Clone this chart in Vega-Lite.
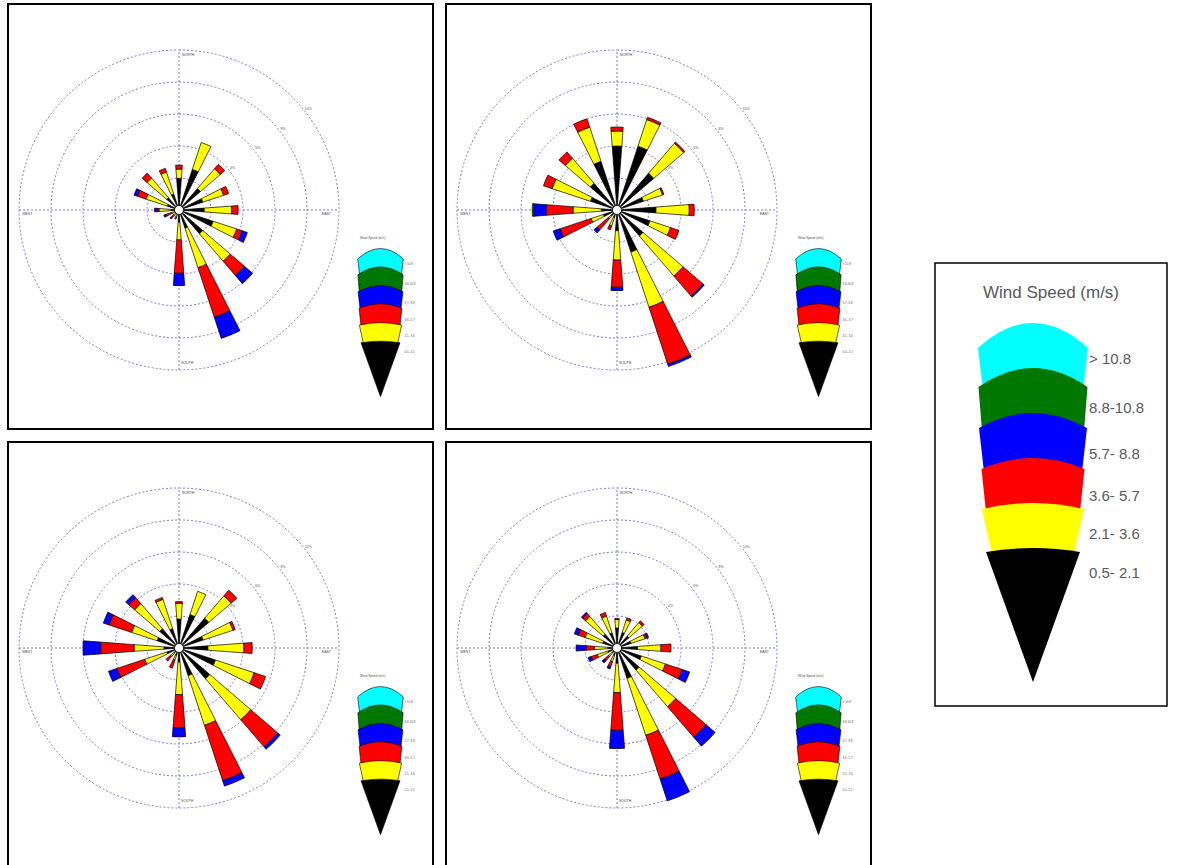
{
  "$schema": "https://vega.github.io/schema/vega-lite/v6.json",
  "padding": {"left": 7, "top": 3, "right": 0, "bottom": 0},
  "background": "white",
  "config": {
    "font": "Liberation Sans",
    "view": {"stroke": "black", "strokeWidth": 2},
    "legend": {"strokeWidth": 1.5}
  },
  "datasets": {
    "p1": [
      {"dir":0,"speed":"0.5- 2.1","pct":1.98},{"dir":0,"speed":"2.1- 3.6","pct":0.58},{"dir":0,"speed":"3.6- 5.7","pct":0.25},
      {"dir":22.5,"speed":"0.5- 2.1","pct":2.67},{"dir":22.5,"speed":"2.1- 3.6","pct":1.77},
      {"dir":45,"speed":"0.5- 2.1","pct":1.77},{"dir":45,"speed":"2.1- 3.6","pct":1.63},{"dir":45,"speed":"3.6- 5.7","pct":0.37},
      {"dir":67.5,"speed":"0.5- 2.1","pct":1.57},{"dir":67.5,"speed":"2.1- 3.6","pct":1.37},{"dir":67.5,"speed":"3.6- 5.7","pct":0.33},
      {"dir":90,"speed":"0.5- 2.1","pct":1.58},{"dir":90,"speed":"2.1- 3.6","pct":1.72},{"dir":90,"speed":"3.6- 5.7","pct":0.4},
      {"dir":112.5,"speed":"0.5- 2.1","pct":2.25},{"dir":112.5,"speed":"2.1- 3.6","pct":1.55},{"dir":112.5,"speed":"3.6- 5.7","pct":0.36},{"dir":112.5,"speed":"5.7- 8.8","pct":0.34},
      {"dir":135,"speed":"0.5- 2.1","pct":1.96},{"dir":135,"speed":"2.1- 3.6","pct":2.27},{"dir":135,"speed":"3.6- 5.7","pct":1.17},{"dir":135,"speed":"5.7- 8.8","pct":0.67},
      {"dir":157.5,"speed":"0.5- 2.1","pct":1.2},{"dir":157.5,"speed":"2.1- 3.6","pct":2.6},{"dir":157.5,"speed":"3.6- 5.7","pct":3.26},{"dir":157.5,"speed":"5.7- 8.8","pct":1.39},
      {"dir":180,"speed":"0.5- 2.1","pct":0.77},{"dir":180,"speed":"2.1- 3.6","pct":1.1},{"dir":180,"speed":"3.6- 5.7","pct":2.09},{"dir":180,"speed":"5.7- 8.8","pct":0.77},
      {"dir":202.5,"speed":"0.5- 2.1","pct":0.3},{"dir":202.5,"speed":"2.1- 3.6","pct":0.15},{"dir":202.5,"speed":"3.6- 5.7","pct":0.15},
      {"dir":225,"speed":"0.5- 2.1","pct":0.3},{"dir":225,"speed":"2.1- 3.6","pct":0.15},{"dir":225,"speed":"3.6- 5.7","pct":0.25},{"dir":225,"speed":"5.7- 8.8","pct":0.05},
      {"dir":247.5,"speed":"0.5- 2.1","pct":0.3},{"dir":247.5,"speed":"2.1- 3.6","pct":0.2},{"dir":247.5,"speed":"3.6- 5.7","pct":0.35},{"dir":247.5,"speed":"5.7- 8.8","pct":0.15},
      {"dir":270,"speed":"0.5- 2.1","pct":0.5},{"dir":270,"speed":"2.1- 3.6","pct":0.75},{"dir":270,"speed":"3.6- 5.7","pct":0.12},{"dir":270,"speed":"5.7- 8.8","pct":0.17},
      {"dir":292.5,"speed":"0.5- 2.1","pct":0.77},{"dir":292.5,"speed":"2.1- 3.6","pct":1.4},{"dir":292.5,"speed":"3.6- 5.7","pct":0.56},{"dir":292.5,"speed":"5.7- 8.8","pct":0.23},
      {"dir":315,"speed":"0.5- 2.1","pct":1.02},{"dir":315,"speed":"2.1- 3.6","pct":1.62},{"dir":315,"speed":"3.6- 5.7","pct":0.4},
      {"dir":337.5,"speed":"0.5- 2.1","pct":1.06},{"dir":337.5,"speed":"2.1- 3.6","pct":1.44},{"dir":337.5,"speed":"3.6- 5.7","pct":0.24}
    ],
    "p2": [
      {"dir":0,"speed":"0.5- 2.1","pct":4.0},{"dir":0,"speed":"2.1- 3.6","pct":0.94},{"dir":0,"speed":"3.6- 5.7","pct":0.25},
      {"dir":22.5,"speed":"0.5- 2.1","pct":4.2},{"dir":22.5,"speed":"2.1- 3.6","pct":1.75},{"dir":22.5,"speed":"3.6- 5.7","pct":0.15},
      {"dir":45,"speed":"0.5- 2.1","pct":3.03},{"dir":45,"speed":"2.1- 3.6","pct":2.47},{"dir":45,"speed":"3.6- 5.7","pct":0.1},
      {"dir":67.5,"speed":"0.5- 2.1","pct":1.74},{"dir":67.5,"speed":"2.1- 3.6","pct":1.26},{"dir":67.5,"speed":"3.6- 5.7","pct":0.09},
      {"dir":90,"speed":"0.5- 2.1","pct":2.44},{"dir":90,"speed":"2.1- 3.6","pct":2.08},{"dir":90,"speed":"3.6- 5.7","pct":0.31},
      {"dir":112.5,"speed":"0.5- 2.1","pct":2.17},{"dir":112.5,"speed":"2.1- 3.6","pct":1.35},{"dir":112.5,"speed":"3.6- 5.7","pct":0.56},
      {"dir":135,"speed":"0.5- 2.1","pct":2.15},{"dir":135,"speed":"2.1- 3.6","pct":3.3},{"dir":135,"speed":"3.6- 5.7","pct":1.65},{"dir":135,"speed":"5.7- 8.8","pct":0.1},
      {"dir":157.5,"speed":"0.5- 2.1","pct":2.77},{"dir":157.5,"speed":"2.1- 3.6","pct":3.63},{"dir":157.5,"speed":"3.6- 5.7","pct":3.75},{"dir":157.5,"speed":"5.7- 8.8","pct":0.15},
      {"dir":180,"speed":"0.5- 2.1","pct":1.29},{"dir":180,"speed":"2.1- 3.6","pct":1.84},{"dir":180,"speed":"3.6- 5.7","pct":1.7},{"dir":180,"speed":"5.7- 8.8","pct":0.21},
      {"dir":202.5,"speed":"0.5- 2.1","pct":0.5},{"dir":202.5,"speed":"2.1- 3.6","pct":0.55},{"dir":202.5,"speed":"3.6- 5.7","pct":0.25},
      {"dir":225,"speed":"0.5- 2.1","pct":0.5},{"dir":225,"speed":"2.1- 3.6","pct":0.2},{"dir":225,"speed":"3.6- 5.7","pct":0.95},{"dir":225,"speed":"5.7- 8.8","pct":0.25},
      {"dir":247.5,"speed":"0.5- 2.1","pct":0.9},{"dir":247.5,"speed":"2.1- 3.6","pct":0.8},{"dir":247.5,"speed":"3.6- 5.7","pct":2.05},{"dir":247.5,"speed":"5.7- 8.8","pct":0.45},
      {"dir":270,"speed":"0.5- 2.1","pct":0.98},{"dir":270,"speed":"2.1- 3.6","pct":1.77},{"dir":270,"speed":"3.6- 5.7","pct":1.67},{"dir":270,"speed":"5.7- 8.8","pct":0.78},{"dir":270,"speed":"8.8-10.8","pct":0.1},
      {"dir":292.5,"speed":"0.5- 2.1","pct":1.75},{"dir":292.5,"speed":"2.1- 3.6","pct":2.52},{"dir":292.5,"speed":"3.6- 5.7","pct":0.57},
      {"dir":315,"speed":"0.5- 2.1","pct":2.2},{"dir":315,"speed":"2.1- 3.6","pct":2.07},{"dir":315,"speed":"3.6- 5.7","pct":0.52},
      {"dir":337.5,"speed":"0.5- 2.1","pct":3.2},{"dir":337.5,"speed":"2.1- 3.6","pct":2.25},{"dir":337.5,"speed":"3.6- 5.7","pct":0.55}
    ],
    "p3": [
      {"dir":0,"speed":"0.5- 2.1","pct":1.81},{"dir":0,"speed":"2.1- 3.6","pct":0.99},{"dir":0,"speed":"3.6- 5.7","pct":0.1},
      {"dir":22.5,"speed":"0.5- 2.1","pct":2.2},{"dir":22.5,"speed":"2.1- 3.6","pct":1.53},
      {"dir":45,"speed":"0.5- 2.1","pct":2.46},{"dir":45,"speed":"2.1- 3.6","pct":1.84},{"dir":45,"speed":"3.6- 5.7","pct":0.47},
      {"dir":67.5,"speed":"0.5- 2.1","pct":1.59},{"dir":67.5,"speed":"2.1- 3.6","pct":1.96},{"dir":67.5,"speed":"3.6- 5.7","pct":0.15},
      {"dir":90,"speed":"0.5- 2.1","pct":1.81},{"dir":90,"speed":"2.1- 3.6","pct":2.25},{"dir":90,"speed":"3.6- 5.7","pct":0.52},
      {"dir":112.5,"speed":"0.5- 2.1","pct":2.4},{"dir":112.5,"speed":"2.1- 3.6","pct":2.55},{"dir":112.5,"speed":"3.6- 5.7","pct":0.75},
      {"dir":135,"speed":"0.5- 2.1","pct":2.54},{"dir":135,"speed":"2.1- 3.6","pct":3.38},{"dir":135,"speed":"3.6- 5.7","pct":2.23},{"dir":135,"speed":"5.7- 8.8","pct":0.2},
      {"dir":157.5,"speed":"0.5- 2.1","pct":1.82},{"dir":157.5,"speed":"2.1- 3.6","pct":3.27},{"dir":157.5,"speed":"3.6- 5.7","pct":3.64},{"dir":157.5,"speed":"5.7- 8.8","pct":0.36},
      {"dir":180,"speed":"0.5- 2.1","pct":0.88},{"dir":180,"speed":"2.1- 3.6","pct":2.04},{"dir":180,"speed":"3.6- 5.7","pct":2.08},{"dir":180,"speed":"5.7- 8.8","pct":0.56},
      {"dir":202.5,"speed":"0.5- 2.1","pct":0.5},{"dir":202.5,"speed":"2.1- 3.6","pct":0.3},{"dir":202.5,"speed":"3.6- 5.7","pct":0.53},
      {"dir":225,"speed":"0.5- 2.1","pct":0.4},{"dir":225,"speed":"2.1- 3.6","pct":0.3},{"dir":225,"speed":"3.6- 5.7","pct":0.38},
      {"dir":247.5,"speed":"0.5- 2.1","pct":0.8},{"dir":247.5,"speed":"2.1- 3.6","pct":1.46},{"dir":247.5,"speed":"3.6- 5.7","pct":1.82},{"dir":247.5,"speed":"5.7- 8.8","pct":0.56},
      {"dir":270,"speed":"0.5- 2.1","pct":0.94},{"dir":270,"speed":"2.1- 3.6","pct":1.87},{"dir":270,"speed":"3.6- 5.7","pct":2.09},{"dir":270,"speed":"5.7- 8.8","pct":1.1},
      {"dir":292.5,"speed":"0.5- 2.1","pct":1.44},{"dir":292.5,"speed":"2.1- 3.6","pct":1.68},{"dir":292.5,"speed":"3.6- 5.7","pct":1.48},{"dir":292.5,"speed":"5.7- 8.8","pct":0.38},
      {"dir":315,"speed":"0.5- 2.1","pct":1.59},{"dir":315,"speed":"2.1- 3.6","pct":2.07},{"dir":315,"speed":"3.6- 5.7","pct":0.49},{"dir":315,"speed":"5.7- 8.8","pct":0.25},
      {"dir":337.5,"speed":"0.5- 2.1","pct":1.27},{"dir":337.5,"speed":"2.1- 3.6","pct":1.93},{"dir":337.5,"speed":"3.6- 5.7","pct":0.13}
    ],
    "p4": [
      {"dir":0,"speed":"0.5- 2.1","pct":1.25},{"dir":0,"speed":"2.1- 3.6","pct":0.53},{"dir":0,"speed":"3.6- 5.7","pct":0.07},
      {"dir":22.5,"speed":"0.5- 2.1","pct":1.02},{"dir":22.5,"speed":"2.1- 3.6","pct":0.83},{"dir":22.5,"speed":"3.6- 5.7","pct":0.13},
      {"dir":45,"speed":"0.5- 2.1","pct":0.98},{"dir":45,"speed":"2.1- 3.6","pct":1.12},{"dir":45,"speed":"3.6- 5.7","pct":0.14},
      {"dir":67.5,"speed":"0.5- 2.1","pct":0.92},{"dir":67.5,"speed":"2.1- 3.6","pct":0.93},{"dir":67.5,"speed":"3.6- 5.7","pct":0.13},{"dir":67.5,"speed":"5.7- 8.8","pct":0.1},
      {"dir":90,"speed":"0.5- 2.1","pct":1.29},{"dir":90,"speed":"2.1- 3.6","pct":1.46},{"dir":90,"speed":"3.6- 5.7","pct":0.63},
      {"dir":112.5,"speed":"0.5- 2.1","pct":1.6},{"dir":112.5,"speed":"2.1- 3.6","pct":1.59},{"dir":112.5,"speed":"3.6- 5.7","pct":1.11},{"dir":112.5,"speed":"5.7- 8.8","pct":0.48},
      {"dir":135,"speed":"0.5- 2.1","pct":1.83},{"dir":135,"speed":"2.1- 3.6","pct":3.02},{"dir":135,"speed":"3.6- 5.7","pct":2.5},{"dir":135,"speed":"5.7- 8.8","pct":0.74},
      {"dir":157.5,"speed":"0.5- 2.1","pct":2.0},{"dir":157.5,"speed":"2.1- 3.6","pct":3.75},{"dir":157.5,"speed":"3.6- 5.7","pct":2.88},{"dir":157.5,"speed":"5.7- 8.8","pct":1.43},
      {"dir":180,"speed":"0.5- 2.1","pct":0.96},{"dir":180,"speed":"2.1- 3.6","pct":1.83},{"dir":180,"speed":"3.6- 5.7","pct":2.36},{"dir":180,"speed":"5.7- 8.8","pct":1.14},
      {"dir":202.5,"speed":"0.5- 2.1","pct":0.5},{"dir":202.5,"speed":"2.1- 3.6","pct":0.4},{"dir":202.5,"speed":"3.6- 5.7","pct":0.35},{"dir":202.5,"speed":"5.7- 8.8","pct":0.13},
      {"dir":225,"speed":"0.5- 2.1","pct":0.4},{"dir":225,"speed":"2.1- 3.6","pct":0.3},{"dir":225,"speed":"3.6- 5.7","pct":0.35},{"dir":225,"speed":"5.7- 8.8","pct":0.19},
      {"dir":247.5,"speed":"0.5- 2.1","pct":0.6},{"dir":247.5,"speed":"2.1- 3.6","pct":0.7},{"dir":247.5,"speed":"3.6- 5.7","pct":0.4},{"dir":247.5,"speed":"5.7- 8.8","pct":0.2},
      {"dir":270,"speed":"0.5- 2.1","pct":0.58},{"dir":270,"speed":"2.1- 3.6","pct":0.84},{"dir":270,"speed":"3.6- 5.7","pct":0.52},{"dir":270,"speed":"5.7- 8.8","pct":0.62},
      {"dir":292.5,"speed":"0.5- 2.1","pct":0.94},{"dir":292.5,"speed":"2.1- 3.6","pct":1.16},{"dir":292.5,"speed":"3.6- 5.7","pct":0.45},{"dir":292.5,"speed":"5.7- 8.8","pct":0.26},
      {"dir":315,"speed":"0.5- 2.1","pct":1.14},{"dir":315,"speed":"2.1- 3.6","pct":1.46},{"dir":315,"speed":"3.6- 5.7","pct":0.25},{"dir":315,"speed":"5.7- 8.8","pct":0.09},
      {"dir":337.5,"speed":"0.5- 2.1","pct":0.99},{"dir":337.5,"speed":"2.1- 3.6","pct":1.11},{"dir":337.5,"speed":"3.6- 5.7","pct":0.24}
    ],
    "rings": [{"ring":2},{"ring":4},{"ring":6},{"ring":8},{"ring":10}],
    "ringLabels": [{"ring":4,"lab":"4%"},{"ring":6,"lab":"6%"},{"ring":8,"lab":"8%"},{"ring":10,"lab":"10%"}],
    "one": [{}]
  },
  "columns": 3,
  "spacing": 13,
  "bounds": "flush",
  "resolve": {
    "scale": {"fill": "independent", "shape": "independent"},
    "legend": {"fill": "independent", "shape": "independent"}
  },
  "concat": [
    {
      "width": 425, "height": 425,
      "data": {"name": "p1"},
      "encoding": {
        "x": {"datum": 0, "type": "quantitative", "scale": {"domain": [-10.6875, 15.875], "nice": false, "zero": false}, "axis": null},
        "y": {"datum": 0, "type": "quantitative", "scale": {"domain": [-13.6875, 12.875], "nice": false, "zero": false}, "axis": null}
      },
      "layer": [
        {"data": {"name": "rings"}, "mark": {"type": "arc", "filled": false, "fill": null, "stroke": "#7a7ad8", "strokeWidth": 1, "strokeDash": [2, 2]},
         "encoding": {"theta": {"datum": 0, "type": "quantitative", "scale": {"domain": [0, 360], "range": [0, 6.283185307179586]}}, "theta2": {"datum": 360},
                      "radius": {"field": "ring", "type": "quantitative", "stack": null, "scale": {"type": "linear", "domain": [0, 10], "range": [0, 160], "zero": true, "nice": false}}}},
        {"data": {"name": "one"}, "mark": {"type": "rule", "stroke": "#7a7ad8", "strokeWidth": 1, "strokeDash": [2, 2]},
         "encoding": {"y": {"datum": -10, "type": "quantitative", "scale": {"domain": [-13.6875, 12.875], "nice": false, "zero": false}, "axis": null}, "y2": {"datum": 10}}},
        {"data": {"name": "one"}, "mark": {"type": "rule", "stroke": "#7a7ad8", "strokeWidth": 1, "strokeDash": [2, 2]},
         "encoding": {"x": {"datum": -10, "type": "quantitative", "scale": {"domain": [-10.6875, 15.875], "nice": false, "zero": false}, "axis": null}, "x2": {"datum": 10}}},
        {"data": {"name": "ringLabels"}, "mark": {"type": "text", "fontSize": 3.5, "fill": "#555555", "radiusOffset": 4},
         "encoding": {"theta": {"datum": 52, "type": "quantitative", "scale": {"domain": [0, 360], "range": [0, 6.283185307179586]}},
                      "radius": {"field": "ring", "type": "quantitative", "stack": null, "scale": {"type": "linear", "domain": [0, 10], "range": [0, 160], "zero": true, "nice": false}},
                      "text": {"field": "lab"}}},
        {"data": {"name": "one"}, "mark": {"type": "text", "text": "NORTH", "align": "left", "baseline": "middle", "dx": 3, "fontSize": 3.5, "fill": "#444444"},
         "encoding": {"y": {"datum": 9.69, "type": "quantitative", "scale": {"domain": [-13.6875, 12.875], "nice": false, "zero": false}, "axis": null}}},
        {"data": {"name": "one"}, "mark": {"type": "text", "text": "SOUTH", "align": "left", "baseline": "middle", "dx": 2, "fontSize": 3.5, "fill": "#444444"},
         "encoding": {"y": {"datum": -9.56, "type": "quantitative", "scale": {"domain": [-13.6875, 12.875], "nice": false, "zero": false}, "axis": null}}},
        {"data": {"name": "one"}, "mark": {"type": "text", "text": "WEST", "align": "left", "baseline": "middle", "fontSize": 3.5, "fill": "#444444"},
         "encoding": {"x": {"datum": -9.8, "type": "quantitative", "scale": {"domain": [-10.6875, 15.875], "nice": false, "zero": false}, "axis": null},
                      "y": {"datum": -0.25, "type": "quantitative", "scale": {"domain": [-13.6875, 12.875], "nice": false, "zero": false}, "axis": null}}},
        {"data": {"name": "one"}, "mark": {"type": "text", "text": "EAST", "align": "right", "baseline": "middle", "fontSize": 3.5, "fill": "#444444"},
         "encoding": {"x": {"datum": 9.5, "type": "quantitative", "scale": {"domain": [-10.6875, 15.875], "nice": false, "zero": false}, "axis": null},
                      "y": {"datum": -0.25, "type": "quantitative", "scale": {"domain": [-13.6875, 12.875], "nice": false, "zero": false}, "axis": null}}},
        {"transform": [
           {"stack": "pct", "groupby": ["dir"], "sort": [{"field": "speed", "order": "ascending"}], "as": ["r0", "r1"]},
           {"calculate": "datum.dir - 4.3", "as": "a0"},
           {"calculate": "datum.dir + 4.3", "as": "a1"}],
         "mark": {"type": "arc", "stroke": "black", "strokeWidth": 0.7},
         "encoding": {
           "theta": {"field": "a0", "type": "quantitative", "stack": null, "scale": {"domain": [0, 360], "range": [0, 6.283185307179586]}},
           "theta2": {"field": "a1"},
           "radius": {"field": "r1", "type": "quantitative", "stack": null, "scale": {"type": "linear", "domain": [0, 10], "range": [0, 160], "zero": true, "nice": false}},
           "radius2": {"field": "r0"},
           "fill": {"field": "speed", "type": "nominal",
                    "scale": {"domain": ["> 10.8", "8.8-10.8", "5.7- 8.8", "3.6- 5.7", "2.1- 3.6", "0.5- 2.1"], "range": ["#00ffff", "#007800", "#0000ff", "#ff0000", "#ffff00", "#000000"]},
                    "legend": {"title": "Wind Speed (m/s)", "orient": "none", "legendX": 352, "legendY": 232.2, "padding": 0, "symbolSize": 0.6889, "symbolStrokeColor": "black", "symbolStrokeWidth": 0.6, "symbolOffset": 19, "rowPadding": -27, "labelOffset": 22.5, "labelFontSize": 3, "labelColor": "#555555", "labelFont": "Liberation Sans", "titleFontSize": 3.2, "titleFont": "Liberation Sans", "titleColor": "#555555", "titleFontWeight": "normal", "titlePadding": 22.6, "titleAnchor": "start", "direction": "vertical"}}}},
        {"data": {"name": "one"}, "mark": {"type": "arc", "fill": "white", "stroke": "black", "strokeWidth": 0.8},
         "encoding": {"theta": {"datum": 0, "type": "quantitative", "scale": {"domain": [0, 360], "range": [0, 6.283185307179586]}}, "theta2": {"datum": 360},
                      "radius": {"datum": 0.28, "type": "quantitative", "stack": null, "scale": {"type": "linear", "domain": [0, 10], "range": [0, 160], "zero": true, "nice": false}}}},
        {"transform": [{"filter": "false"}],
         "mark": {"type": "point", "filled": true, "opacity": 1, "stroke": "black", "strokeWidth": 0.6},
         "encoding": {
           "fill": {"field": "speed", "type": "nominal",
                    "scale": {"domain": ["> 10.8", "8.8-10.8", "5.7- 8.8", "3.6- 5.7", "2.1- 3.6", "0.5- 2.1"], "range": ["#00ffff", "#007800", "#0000ff", "#ff0000", "#ffff00", "#000000"]},
                    "legend": {"title": "Wind Speed (m/s)", "orient": "none", "legendX": 352, "legendY": 232.2, "padding": 0, "symbolSize": 0.6889, "symbolStrokeColor": "black", "symbolStrokeWidth": 0.6, "symbolOffset": 19, "rowPadding": -27, "labelOffset": 22.5, "labelFontSize": 3, "labelColor": "#555555", "labelFont": "Liberation Sans", "titleFontSize": 3.2, "titleFont": "Liberation Sans", "titleColor": "#555555", "titleFontWeight": "normal", "titlePadding": 22.6, "titleAnchor": "start", "direction": "vertical"}},
           "shape": {"field": "speed", "type": "nominal",
                    "scale": {"domain": ["> 10.8", "8.8-10.8", "5.7- 8.8", "3.6- 5.7", "2.1- 3.6", "0.5- 2.1"],
                              "range": ["M0,-70M0,35.7M-55,-11Q0,-61 55,-11L50,31L-50,31Z", "M0,-70M0,33.3M-54.5,-21Q0,-59 54.5,-21L51,23L-51,23Z", "M0,-70M0,28.4M-54,-26Q0,-56 54,-26L49,18L-49,18Z", "M0,-70M0,26M-51.5,-27Q0,-49 51.5,-27L47,16L-47,16Z", "M0,-70M0,26M-51,-25Q0,-37 51,-25L41,20L-41,20Z", "M0,-70M-47,-21Q0,-29 47,-21L0,109Z"]},
                    "legend": {"title": "Wind Speed (m/s)", "orient": "none", "legendX": 352, "legendY": 232.2, "padding": 0, "symbolSize": 0.6889, "symbolStrokeColor": "black", "symbolStrokeWidth": 0.6, "symbolOffset": 19, "rowPadding": -27, "labelOffset": 22.5, "labelFontSize": 3, "labelColor": "#555555", "labelFont": "Liberation Sans", "titleFontSize": 3.2, "titleFont": "Liberation Sans", "titleColor": "#555555", "titleFontWeight": "normal", "titlePadding": 22.6, "titleAnchor": "start", "direction": "vertical"}}}}
      ]
    },
    {
      "width": 425, "height": 425,
      "data": {"name": "p2"},
      "encoding": {
        "x": {"datum": 0, "type": "quantitative", "scale": {"domain": [-10.6875, 15.875], "nice": false, "zero": false}, "axis": null},
        "y": {"datum": 0, "type": "quantitative", "scale": {"domain": [-13.6875, 12.875], "nice": false, "zero": false}, "axis": null}
      },
      "layer": [
        {"data": {"name": "rings"}, "mark": {"type": "arc", "filled": false, "fill": null, "stroke": "#7a7ad8", "strokeWidth": 1, "strokeDash": [2, 2]},
         "encoding": {"theta": {"datum": 0, "type": "quantitative", "scale": {"domain": [0, 360], "range": [0, 6.283185307179586]}}, "theta2": {"datum": 360},
                      "radius": {"field": "ring", "type": "quantitative", "stack": null, "scale": {"type": "linear", "domain": [0, 10], "range": [0, 160], "zero": true, "nice": false}}}},
        {"data": {"name": "one"}, "mark": {"type": "rule", "stroke": "#7a7ad8", "strokeWidth": 1, "strokeDash": [2, 2]},
         "encoding": {"y": {"datum": -10, "type": "quantitative", "scale": {"domain": [-13.6875, 12.875], "nice": false, "zero": false}, "axis": null}, "y2": {"datum": 10}}},
        {"data": {"name": "one"}, "mark": {"type": "rule", "stroke": "#7a7ad8", "strokeWidth": 1, "strokeDash": [2, 2]},
         "encoding": {"x": {"datum": -10, "type": "quantitative", "scale": {"domain": [-10.6875, 15.875], "nice": false, "zero": false}, "axis": null}, "x2": {"datum": 10}}},
        {"data": {"name": "ringLabels"}, "mark": {"type": "text", "fontSize": 3.5, "fill": "#555555", "radiusOffset": 4},
         "encoding": {"theta": {"datum": 52, "type": "quantitative", "scale": {"domain": [0, 360], "range": [0, 6.283185307179586]}},
                      "radius": {"field": "ring", "type": "quantitative", "stack": null, "scale": {"type": "linear", "domain": [0, 10], "range": [0, 160], "zero": true, "nice": false}},
                      "text": {"field": "lab"}}},
        {"data": {"name": "one"}, "mark": {"type": "text", "text": "NORTH", "align": "left", "baseline": "middle", "dx": 3, "fontSize": 3.5, "fill": "#444444"},
         "encoding": {"y": {"datum": 9.69, "type": "quantitative", "scale": {"domain": [-13.6875, 12.875], "nice": false, "zero": false}, "axis": null}}},
        {"data": {"name": "one"}, "mark": {"type": "text", "text": "SOUTH", "align": "left", "baseline": "middle", "dx": 2, "fontSize": 3.5, "fill": "#444444"},
         "encoding": {"y": {"datum": -9.56, "type": "quantitative", "scale": {"domain": [-13.6875, 12.875], "nice": false, "zero": false}, "axis": null}}},
        {"data": {"name": "one"}, "mark": {"type": "text", "text": "WEST", "align": "left", "baseline": "middle", "fontSize": 3.5, "fill": "#444444"},
         "encoding": {"x": {"datum": -9.8, "type": "quantitative", "scale": {"domain": [-10.6875, 15.875], "nice": false, "zero": false}, "axis": null},
                      "y": {"datum": -0.25, "type": "quantitative", "scale": {"domain": [-13.6875, 12.875], "nice": false, "zero": false}, "axis": null}}},
        {"data": {"name": "one"}, "mark": {"type": "text", "text": "EAST", "align": "right", "baseline": "middle", "fontSize": 3.5, "fill": "#444444"},
         "encoding": {"x": {"datum": 9.5, "type": "quantitative", "scale": {"domain": [-10.6875, 15.875], "nice": false, "zero": false}, "axis": null},
                      "y": {"datum": -0.25, "type": "quantitative", "scale": {"domain": [-13.6875, 12.875], "nice": false, "zero": false}, "axis": null}}},
        {"transform": [
           {"stack": "pct", "groupby": ["dir"], "sort": [{"field": "speed", "order": "ascending"}], "as": ["r0", "r1"]},
           {"calculate": "datum.dir - 4.3", "as": "a0"},
           {"calculate": "datum.dir + 4.3", "as": "a1"}],
         "mark": {"type": "arc", "stroke": "black", "strokeWidth": 0.7},
         "encoding": {
           "theta": {"field": "a0", "type": "quantitative", "stack": null, "scale": {"domain": [0, 360], "range": [0, 6.283185307179586]}},
           "theta2": {"field": "a1"},
           "radius": {"field": "r1", "type": "quantitative", "stack": null, "scale": {"type": "linear", "domain": [0, 10], "range": [0, 160], "zero": true, "nice": false}},
           "radius2": {"field": "r0"},
           "fill": {"field": "speed", "type": "nominal",
                    "scale": {"domain": ["> 10.8", "8.8-10.8", "5.7- 8.8", "3.6- 5.7", "2.1- 3.6", "0.5- 2.1"], "range": ["#00ffff", "#007800", "#0000ff", "#ff0000", "#ffff00", "#000000"]},
                    "legend": {"title": "Wind Speed (m/s)", "orient": "none", "legendX": 352, "legendY": 232.2, "padding": 0, "symbolSize": 0.6889, "symbolStrokeColor": "black", "symbolStrokeWidth": 0.6, "symbolOffset": 19, "rowPadding": -27, "labelOffset": 22.5, "labelFontSize": 3, "labelColor": "#555555", "labelFont": "Liberation Sans", "titleFontSize": 3.2, "titleFont": "Liberation Sans", "titleColor": "#555555", "titleFontWeight": "normal", "titlePadding": 22.6, "titleAnchor": "start", "direction": "vertical"}}}},
        {"data": {"name": "one"}, "mark": {"type": "arc", "fill": "white", "stroke": "black", "strokeWidth": 0.8},
         "encoding": {"theta": {"datum": 0, "type": "quantitative", "scale": {"domain": [0, 360], "range": [0, 6.283185307179586]}}, "theta2": {"datum": 360},
                      "radius": {"datum": 0.28, "type": "quantitative", "stack": null, "scale": {"type": "linear", "domain": [0, 10], "range": [0, 160], "zero": true, "nice": false}}}},
        {"transform": [{"filter": "false"}],
         "mark": {"type": "point", "filled": true, "opacity": 1, "stroke": "black", "strokeWidth": 0.6},
         "encoding": {
           "fill": {"field": "speed", "type": "nominal",
                    "scale": {"domain": ["> 10.8", "8.8-10.8", "5.7- 8.8", "3.6- 5.7", "2.1- 3.6", "0.5- 2.1"], "range": ["#00ffff", "#007800", "#0000ff", "#ff0000", "#ffff00", "#000000"]},
                    "legend": {"title": "Wind Speed (m/s)", "orient": "none", "legendX": 352, "legendY": 232.2, "padding": 0, "symbolSize": 0.6889, "symbolStrokeColor": "black", "symbolStrokeWidth": 0.6, "symbolOffset": 19, "rowPadding": -27, "labelOffset": 22.5, "labelFontSize": 3, "labelColor": "#555555", "labelFont": "Liberation Sans", "titleFontSize": 3.2, "titleFont": "Liberation Sans", "titleColor": "#555555", "titleFontWeight": "normal", "titlePadding": 22.6, "titleAnchor": "start", "direction": "vertical"}},
           "shape": {"field": "speed", "type": "nominal",
                    "scale": {"domain": ["> 10.8", "8.8-10.8", "5.7- 8.8", "3.6- 5.7", "2.1- 3.6", "0.5- 2.1"],
                              "range": ["M0,-70M0,35.7M-55,-11Q0,-61 55,-11L50,31L-50,31Z", "M0,-70M0,33.3M-54.5,-21Q0,-59 54.5,-21L51,23L-51,23Z", "M0,-70M0,28.4M-54,-26Q0,-56 54,-26L49,18L-49,18Z", "M0,-70M0,26M-51.5,-27Q0,-49 51.5,-27L47,16L-47,16Z", "M0,-70M0,26M-51,-25Q0,-37 51,-25L41,20L-41,20Z", "M0,-70M-47,-21Q0,-29 47,-21L0,109Z"]},
                    "legend": {"title": "Wind Speed (m/s)", "orient": "none", "legendX": 352, "legendY": 232.2, "padding": 0, "symbolSize": 0.6889, "symbolStrokeColor": "black", "symbolStrokeWidth": 0.6, "symbolOffset": 19, "rowPadding": -27, "labelOffset": 22.5, "labelFontSize": 3, "labelColor": "#555555", "labelFont": "Liberation Sans", "titleFontSize": 3.2, "titleFont": "Liberation Sans", "titleColor": "#555555", "titleFontWeight": "normal", "titlePadding": 22.6, "titleAnchor": "start", "direction": "vertical"}}}}
      ]
    },
    {
      "width": 1, "height": 1,
      "view": {"stroke": null},
      "data": {"name": "one"},
      "transform": [{"filter": "false"}],
      "mark": {"type": "point", "filled": true, "opacity": 1, "stroke": "black", "strokeWidth": 1},
      "encoding": {
        "fill": {"field": "speed", "type": "nominal",
                 "scale": {"domain": ["> 10.8", "8.8-10.8", "5.7- 8.8", "3.6- 5.7", "2.1- 3.6", "0.5- 2.1"], "range": ["#00ffff", "#007800", "#0000ff", "#ff0000", "#ffff00", "#000000"]},
                 "legend": {"title": "Wind Speed (m/s)", "orient": "none", "legendX": 51, "legendY": 259, "padding": 22, "strokeColor": "black", "fillColor": "white", "symbolSize": 4, "symbolStrokeColor": "black", "symbolStrokeWidth": 1, "symbolOffset": 68.5, "rowPadding": -60, "labelOffset": 48.5, "labelFontSize": 15, "labelColor": "#5a5a5a", "labelFont": "Liberation Sans", "labelExpr": "datum.label == '> 10.8' ? '\u00a0\u00a0> 10.8' : datum.label", "titleFontSize": 17, "titleFont": "Liberation Sans", "titleColor": "#5a5a5a", "titleFontWeight": "normal", "titlePadding": 49.5, "titleAnchor": "middle", "direction": "vertical"}},
        "shape": {"field": "speed", "type": "nominal",
                 "scale": {"domain": ["> 10.8", "8.8-10.8", "5.7- 8.8", "3.6- 5.7", "2.1- 3.6", "0.5- 2.1"],
                           "range": ["M0,-70M0,34.3M-55,-11Q0,-61 55,-11L50,31L-50,31Z", "M0,-70M0,31.3M-54.5,-21Q0,-59 54.5,-21L51,23L-51,23Z", "M0,-70M0,27.3M-54,-26Q0,-56 54,-26L49,18L-49,18Z", "M0,-70M0,23.3M-51.5,-27Q0,-49 51.5,-27L47,16L-47,16Z", "M0,-70M0,24.3M-51,-25Q0,-37 51,-25L41,20L-41,20Z", "M0,-70M-47,-21Q0,-29 47,-21L0,109Z"]},
                 "legend": {"title": "Wind Speed (m/s)", "orient": "none", "legendX": 51, "legendY": 259, "padding": 22, "strokeColor": "black", "fillColor": "white", "symbolSize": 4, "symbolStrokeColor": "black", "symbolStrokeWidth": 1, "symbolOffset": 68.5, "rowPadding": -60, "labelOffset": 48.5, "labelFontSize": 15, "labelColor": "#5a5a5a", "labelFont": "Liberation Sans", "labelExpr": "datum.label == '> 10.8' ? '\u00a0\u00a0> 10.8' : datum.label", "titleFontSize": 17, "titleFont": "Liberation Sans", "titleColor": "#5a5a5a", "titleFontWeight": "normal", "titlePadding": 49.5, "titleAnchor": "middle", "direction": "vertical"}}
      }
    },
    {
      "width": 425, "height": 425,
      "data": {"name": "p3"},
      "encoding": {
        "x": {"datum": 0, "type": "quantitative", "scale": {"domain": [-10.6875, 15.875], "nice": false, "zero": false}, "axis": null},
        "y": {"datum": 0, "type": "quantitative", "scale": {"domain": [-13.6875, 12.875], "nice": false, "zero": false}, "axis": null}
      },
      "layer": [
        {"data": {"name": "rings"}, "mark": {"type": "arc", "filled": false, "fill": null, "stroke": "#7a7ad8", "strokeWidth": 1, "strokeDash": [2, 2]},
         "encoding": {"theta": {"datum": 0, "type": "quantitative", "scale": {"domain": [0, 360], "range": [0, 6.283185307179586]}}, "theta2": {"datum": 360},
                      "radius": {"field": "ring", "type": "quantitative", "stack": null, "scale": {"type": "linear", "domain": [0, 10], "range": [0, 160], "zero": true, "nice": false}}}},
        {"data": {"name": "one"}, "mark": {"type": "rule", "stroke": "#7a7ad8", "strokeWidth": 1, "strokeDash": [2, 2]},
         "encoding": {"y": {"datum": -10, "type": "quantitative", "scale": {"domain": [-13.6875, 12.875], "nice": false, "zero": false}, "axis": null}, "y2": {"datum": 10}}},
        {"data": {"name": "one"}, "mark": {"type": "rule", "stroke": "#7a7ad8", "strokeWidth": 1, "strokeDash": [2, 2]},
         "encoding": {"x": {"datum": -10, "type": "quantitative", "scale": {"domain": [-10.6875, 15.875], "nice": false, "zero": false}, "axis": null}, "x2": {"datum": 10}}},
        {"data": {"name": "ringLabels"}, "mark": {"type": "text", "fontSize": 3.5, "fill": "#555555", "radiusOffset": 4},
         "encoding": {"theta": {"datum": 52, "type": "quantitative", "scale": {"domain": [0, 360], "range": [0, 6.283185307179586]}},
                      "radius": {"field": "ring", "type": "quantitative", "stack": null, "scale": {"type": "linear", "domain": [0, 10], "range": [0, 160], "zero": true, "nice": false}},
                      "text": {"field": "lab"}}},
        {"data": {"name": "one"}, "mark": {"type": "text", "text": "NORTH", "align": "left", "baseline": "middle", "dx": 3, "fontSize": 3.5, "fill": "#444444"},
         "encoding": {"y": {"datum": 9.69, "type": "quantitative", "scale": {"domain": [-13.6875, 12.875], "nice": false, "zero": false}, "axis": null}}},
        {"data": {"name": "one"}, "mark": {"type": "text", "text": "SOUTH", "align": "left", "baseline": "middle", "dx": 2, "fontSize": 3.5, "fill": "#444444"},
         "encoding": {"y": {"datum": -9.56, "type": "quantitative", "scale": {"domain": [-13.6875, 12.875], "nice": false, "zero": false}, "axis": null}}},
        {"data": {"name": "one"}, "mark": {"type": "text", "text": "WEST", "align": "left", "baseline": "middle", "fontSize": 3.5, "fill": "#444444"},
         "encoding": {"x": {"datum": -9.8, "type": "quantitative", "scale": {"domain": [-10.6875, 15.875], "nice": false, "zero": false}, "axis": null},
                      "y": {"datum": -0.25, "type": "quantitative", "scale": {"domain": [-13.6875, 12.875], "nice": false, "zero": false}, "axis": null}}},
        {"data": {"name": "one"}, "mark": {"type": "text", "text": "EAST", "align": "right", "baseline": "middle", "fontSize": 3.5, "fill": "#444444"},
         "encoding": {"x": {"datum": 9.5, "type": "quantitative", "scale": {"domain": [-10.6875, 15.875], "nice": false, "zero": false}, "axis": null},
                      "y": {"datum": -0.25, "type": "quantitative", "scale": {"domain": [-13.6875, 12.875], "nice": false, "zero": false}, "axis": null}}},
        {"transform": [
           {"stack": "pct", "groupby": ["dir"], "sort": [{"field": "speed", "order": "ascending"}], "as": ["r0", "r1"]},
           {"calculate": "datum.dir - 4.3", "as": "a0"},
           {"calculate": "datum.dir + 4.3", "as": "a1"}],
         "mark": {"type": "arc", "stroke": "black", "strokeWidth": 0.7},
         "encoding": {
           "theta": {"field": "a0", "type": "quantitative", "stack": null, "scale": {"domain": [0, 360], "range": [0, 6.283185307179586]}},
           "theta2": {"field": "a1"},
           "radius": {"field": "r1", "type": "quantitative", "stack": null, "scale": {"type": "linear", "domain": [0, 10], "range": [0, 160], "zero": true, "nice": false}},
           "radius2": {"field": "r0"},
           "fill": {"field": "speed", "type": "nominal",
                    "scale": {"domain": ["> 10.8", "8.8-10.8", "5.7- 8.8", "3.6- 5.7", "2.1- 3.6", "0.5- 2.1"], "range": ["#00ffff", "#007800", "#0000ff", "#ff0000", "#ffff00", "#000000"]},
                    "legend": {"title": "Wind Speed (m/s)", "orient": "none", "legendX": 352, "legendY": 232.2, "padding": 0, "symbolSize": 0.6889, "symbolStrokeColor": "black", "symbolStrokeWidth": 0.6, "symbolOffset": 19, "rowPadding": -27, "labelOffset": 22.5, "labelFontSize": 3, "labelColor": "#555555", "labelFont": "Liberation Sans", "titleFontSize": 3.2, "titleFont": "Liberation Sans", "titleColor": "#555555", "titleFontWeight": "normal", "titlePadding": 22.6, "titleAnchor": "start", "direction": "vertical"}}}},
        {"data": {"name": "one"}, "mark": {"type": "arc", "fill": "white", "stroke": "black", "strokeWidth": 0.8},
         "encoding": {"theta": {"datum": 0, "type": "quantitative", "scale": {"domain": [0, 360], "range": [0, 6.283185307179586]}}, "theta2": {"datum": 360},
                      "radius": {"datum": 0.28, "type": "quantitative", "stack": null, "scale": {"type": "linear", "domain": [0, 10], "range": [0, 160], "zero": true, "nice": false}}}},
        {"transform": [{"filter": "false"}],
         "mark": {"type": "point", "filled": true, "opacity": 1, "stroke": "black", "strokeWidth": 0.6},
         "encoding": {
           "fill": {"field": "speed", "type": "nominal",
                    "scale": {"domain": ["> 10.8", "8.8-10.8", "5.7- 8.8", "3.6- 5.7", "2.1- 3.6", "0.5- 2.1"], "range": ["#00ffff", "#007800", "#0000ff", "#ff0000", "#ffff00", "#000000"]},
                    "legend": {"title": "Wind Speed (m/s)", "orient": "none", "legendX": 352, "legendY": 232.2, "padding": 0, "symbolSize": 0.6889, "symbolStrokeColor": "black", "symbolStrokeWidth": 0.6, "symbolOffset": 19, "rowPadding": -27, "labelOffset": 22.5, "labelFontSize": 3, "labelColor": "#555555", "labelFont": "Liberation Sans", "titleFontSize": 3.2, "titleFont": "Liberation Sans", "titleColor": "#555555", "titleFontWeight": "normal", "titlePadding": 22.6, "titleAnchor": "start", "direction": "vertical"}},
           "shape": {"field": "speed", "type": "nominal",
                    "scale": {"domain": ["> 10.8", "8.8-10.8", "5.7- 8.8", "3.6- 5.7", "2.1- 3.6", "0.5- 2.1"],
                              "range": ["M0,-70M0,35.7M-55,-11Q0,-61 55,-11L50,31L-50,31Z", "M0,-70M0,33.3M-54.5,-21Q0,-59 54.5,-21L51,23L-51,23Z", "M0,-70M0,28.4M-54,-26Q0,-56 54,-26L49,18L-49,18Z", "M0,-70M0,26M-51.5,-27Q0,-49 51.5,-27L47,16L-47,16Z", "M0,-70M0,26M-51,-25Q0,-37 51,-25L41,20L-41,20Z", "M0,-70M-47,-21Q0,-29 47,-21L0,109Z"]},
                    "legend": {"title": "Wind Speed (m/s)", "orient": "none", "legendX": 352, "legendY": 232.2, "padding": 0, "symbolSize": 0.6889, "symbolStrokeColor": "black", "symbolStrokeWidth": 0.6, "symbolOffset": 19, "rowPadding": -27, "labelOffset": 22.5, "labelFontSize": 3, "labelColor": "#555555", "labelFont": "Liberation Sans", "titleFontSize": 3.2, "titleFont": "Liberation Sans", "titleColor": "#555555", "titleFontWeight": "normal", "titlePadding": 22.6, "titleAnchor": "start", "direction": "vertical"}}}}
      ]
    },
    {
      "width": 425, "height": 425,
      "data": {"name": "p4"},
      "encoding": {
        "x": {"datum": 0, "type": "quantitative", "scale": {"domain": [-10.6875, 15.875], "nice": false, "zero": false}, "axis": null},
        "y": {"datum": 0, "type": "quantitative", "scale": {"domain": [-13.6875, 12.875], "nice": false, "zero": false}, "axis": null}
      },
      "layer": [
        {"data": {"name": "rings"}, "mark": {"type": "arc", "filled": false, "fill": null, "stroke": "#7a7ad8", "strokeWidth": 1, "strokeDash": [2, 2]},
         "encoding": {"theta": {"datum": 0, "type": "quantitative", "scale": {"domain": [0, 360], "range": [0, 6.283185307179586]}}, "theta2": {"datum": 360},
                      "radius": {"field": "ring", "type": "quantitative", "stack": null, "scale": {"type": "linear", "domain": [0, 10], "range": [0, 160], "zero": true, "nice": false}}}},
        {"data": {"name": "one"}, "mark": {"type": "rule", "stroke": "#7a7ad8", "strokeWidth": 1, "strokeDash": [2, 2]},
         "encoding": {"y": {"datum": -10, "type": "quantitative", "scale": {"domain": [-13.6875, 12.875], "nice": false, "zero": false}, "axis": null}, "y2": {"datum": 10}}},
        {"data": {"name": "one"}, "mark": {"type": "rule", "stroke": "#7a7ad8", "strokeWidth": 1, "strokeDash": [2, 2]},
         "encoding": {"x": {"datum": -10, "type": "quantitative", "scale": {"domain": [-10.6875, 15.875], "nice": false, "zero": false}, "axis": null}, "x2": {"datum": 10}}},
        {"data": {"name": "ringLabels"}, "mark": {"type": "text", "fontSize": 3.5, "fill": "#555555", "radiusOffset": 4},
         "encoding": {"theta": {"datum": 52, "type": "quantitative", "scale": {"domain": [0, 360], "range": [0, 6.283185307179586]}},
                      "radius": {"field": "ring", "type": "quantitative", "stack": null, "scale": {"type": "linear", "domain": [0, 10], "range": [0, 160], "zero": true, "nice": false}},
                      "text": {"field": "lab"}}},
        {"data": {"name": "one"}, "mark": {"type": "text", "text": "NORTH", "align": "left", "baseline": "middle", "dx": 3, "fontSize": 3.5, "fill": "#444444"},
         "encoding": {"y": {"datum": 9.69, "type": "quantitative", "scale": {"domain": [-13.6875, 12.875], "nice": false, "zero": false}, "axis": null}}},
        {"data": {"name": "one"}, "mark": {"type": "text", "text": "SOUTH", "align": "left", "baseline": "middle", "dx": 2, "fontSize": 3.5, "fill": "#444444"},
         "encoding": {"y": {"datum": -9.56, "type": "quantitative", "scale": {"domain": [-13.6875, 12.875], "nice": false, "zero": false}, "axis": null}}},
        {"data": {"name": "one"}, "mark": {"type": "text", "text": "WEST", "align": "left", "baseline": "middle", "fontSize": 3.5, "fill": "#444444"},
         "encoding": {"x": {"datum": -9.8, "type": "quantitative", "scale": {"domain": [-10.6875, 15.875], "nice": false, "zero": false}, "axis": null},
                      "y": {"datum": -0.25, "type": "quantitative", "scale": {"domain": [-13.6875, 12.875], "nice": false, "zero": false}, "axis": null}}},
        {"data": {"name": "one"}, "mark": {"type": "text", "text": "EAST", "align": "right", "baseline": "middle", "fontSize": 3.5, "fill": "#444444"},
         "encoding": {"x": {"datum": 9.5, "type": "quantitative", "scale": {"domain": [-10.6875, 15.875], "nice": false, "zero": false}, "axis": null},
                      "y": {"datum": -0.25, "type": "quantitative", "scale": {"domain": [-13.6875, 12.875], "nice": false, "zero": false}, "axis": null}}},
        {"transform": [
           {"stack": "pct", "groupby": ["dir"], "sort": [{"field": "speed", "order": "ascending"}], "as": ["r0", "r1"]},
           {"calculate": "datum.dir - 4.3", "as": "a0"},
           {"calculate": "datum.dir + 4.3", "as": "a1"}],
         "mark": {"type": "arc", "stroke": "black", "strokeWidth": 0.7},
         "encoding": {
           "theta": {"field": "a0", "type": "quantitative", "stack": null, "scale": {"domain": [0, 360], "range": [0, 6.283185307179586]}},
           "theta2": {"field": "a1"},
           "radius": {"field": "r1", "type": "quantitative", "stack": null, "scale": {"type": "linear", "domain": [0, 10], "range": [0, 160], "zero": true, "nice": false}},
           "radius2": {"field": "r0"},
           "fill": {"field": "speed", "type": "nominal",
                    "scale": {"domain": ["> 10.8", "8.8-10.8", "5.7- 8.8", "3.6- 5.7", "2.1- 3.6", "0.5- 2.1"], "range": ["#00ffff", "#007800", "#0000ff", "#ff0000", "#ffff00", "#000000"]},
                    "legend": {"title": "Wind Speed (m/s)", "orient": "none", "legendX": 352, "legendY": 232.2, "padding": 0, "symbolSize": 0.6889, "symbolStrokeColor": "black", "symbolStrokeWidth": 0.6, "symbolOffset": 19, "rowPadding": -27, "labelOffset": 22.5, "labelFontSize": 3, "labelColor": "#555555", "labelFont": "Liberation Sans", "titleFontSize": 3.2, "titleFont": "Liberation Sans", "titleColor": "#555555", "titleFontWeight": "normal", "titlePadding": 22.6, "titleAnchor": "start", "direction": "vertical"}}}},
        {"data": {"name": "one"}, "mark": {"type": "arc", "fill": "white", "stroke": "black", "strokeWidth": 0.8},
         "encoding": {"theta": {"datum": 0, "type": "quantitative", "scale": {"domain": [0, 360], "range": [0, 6.283185307179586]}}, "theta2": {"datum": 360},
                      "radius": {"datum": 0.28, "type": "quantitative", "stack": null, "scale": {"type": "linear", "domain": [0, 10], "range": [0, 160], "zero": true, "nice": false}}}},
        {"transform": [{"filter": "false"}],
         "mark": {"type": "point", "filled": true, "opacity": 1, "stroke": "black", "strokeWidth": 0.6},
         "encoding": {
           "fill": {"field": "speed", "type": "nominal",
                    "scale": {"domain": ["> 10.8", "8.8-10.8", "5.7- 8.8", "3.6- 5.7", "2.1- 3.6", "0.5- 2.1"], "range": ["#00ffff", "#007800", "#0000ff", "#ff0000", "#ffff00", "#000000"]},
                    "legend": {"title": "Wind Speed (m/s)", "orient": "none", "legendX": 352, "legendY": 232.2, "padding": 0, "symbolSize": 0.6889, "symbolStrokeColor": "black", "symbolStrokeWidth": 0.6, "symbolOffset": 19, "rowPadding": -27, "labelOffset": 22.5, "labelFontSize": 3, "labelColor": "#555555", "labelFont": "Liberation Sans", "titleFontSize": 3.2, "titleFont": "Liberation Sans", "titleColor": "#555555", "titleFontWeight": "normal", "titlePadding": 22.6, "titleAnchor": "start", "direction": "vertical"}},
           "shape": {"field": "speed", "type": "nominal",
                    "scale": {"domain": ["> 10.8", "8.8-10.8", "5.7- 8.8", "3.6- 5.7", "2.1- 3.6", "0.5- 2.1"],
                              "range": ["M0,-70M0,35.7M-55,-11Q0,-61 55,-11L50,31L-50,31Z", "M0,-70M0,33.3M-54.5,-21Q0,-59 54.5,-21L51,23L-51,23Z", "M0,-70M0,28.4M-54,-26Q0,-56 54,-26L49,18L-49,18Z", "M0,-70M0,26M-51.5,-27Q0,-49 51.5,-27L47,16L-47,16Z", "M0,-70M0,26M-51,-25Q0,-37 51,-25L41,20L-41,20Z", "M0,-70M-47,-21Q0,-29 47,-21L0,109Z"]},
                    "legend": {"title": "Wind Speed (m/s)", "orient": "none", "legendX": 352, "legendY": 232.2, "padding": 0, "symbolSize": 0.6889, "symbolStrokeColor": "black", "symbolStrokeWidth": 0.6, "symbolOffset": 19, "rowPadding": -27, "labelOffset": 22.5, "labelFontSize": 3, "labelColor": "#555555", "labelFont": "Liberation Sans", "titleFontSize": 3.2, "titleFont": "Liberation Sans", "titleColor": "#555555", "titleFontWeight": "normal", "titlePadding": 22.6, "titleAnchor": "start", "direction": "vertical"}}}}
      ]
    }
  ]
}
